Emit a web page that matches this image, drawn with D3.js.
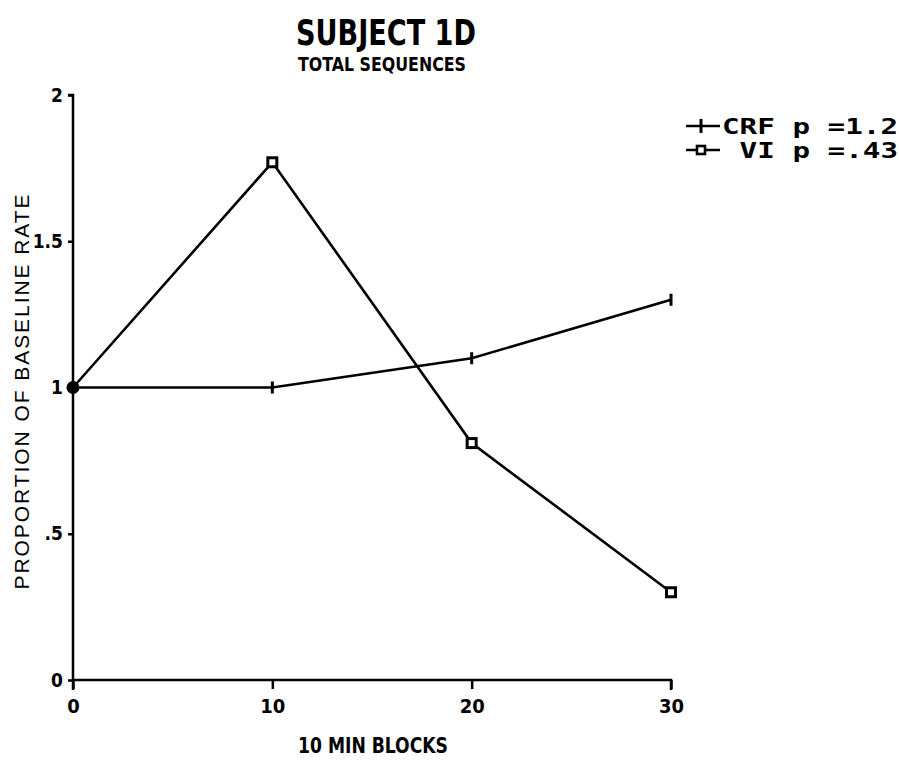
<!DOCTYPE html>
<html>
<head>
<meta charset="utf-8">
<script src="https://cdn.jsdelivr.net/npm/d3@7"></script>
<style>
  html, body { margin: 0; padding: 0; background: #fff; }
  svg { display: block; }
</style>
</head>
<body>
<script>
// Session blocks (10-minute blocks) and proportion of baseline response rate
const blocks = [0, 10, 20, 30];
const crfValues = [1.0, 1.0, 1.1, 1.3];
const viValues = [1.0, 1.77, 0.81, 0.30];
const xTicks = [0, 10, 20, 30];
const yTicks = [0, 0.5, 1, 1.5, 2];
const yTickLabels = ["0", ".5", "1", "1.5", "2"];
const legendLabels = ["CRF p =1.2", " VI p =.43"];

const W = 899, H = 762;
const svg = d3.select("body").append("svg").attr("width", W).attr("height", H);

const x = d3.scaleLinear().domain([0, 30]).range([73, 671]);
const y = d3.scaleLinear().domain([0, 2]).range([680, 95]);

const narrow = "'DejaVu Sans Condensed', 'Liberation Sans Narrow', 'DejaVu Sans', sans-serif";
const ink = "#000";

function condensedText(sel) {
  return sel.attr("font-family", narrow).attr("font-weight", "bold")
    .style("font-stretch", "condensed").attr("fill", ink)
    .attr("lengthAdjust", "spacingAndGlyphs");
}

// Titles
svg.append("text").attr("x", 386).attr("y", 45)
  .attr("text-anchor", "middle").attr("font-size", 36)
  .call(condensedText).attr("textLength", 180)
  .text("SUBJECT 1D");
svg.append("text").attr("x", 382).attr("y", 71)
  .attr("text-anchor", "middle").attr("font-size", 20)
  .call(condensedText).attr("textLength", 168)
  .text("TOTAL SEQUENCES");

// Axes
const xAxis = d3.axisBottom(x).tickValues(xTicks).tickSize(9).tickFormat(d3.format("d"));
const gx = svg.append("g").attr("transform", `translate(0,${y(0)})`).call(xAxis);
gx.select(".domain").attr("d", `M${x(0)},0H${x(30)}V10`);
gx.selectAll("line, path").attr("stroke", ink).attr("stroke-width", 2.5);
gx.selectAll("text").call(condensedText)
  .attr("font-size", 20).attr("dy", "1.05em");

const yAxis = d3.axisLeft(y).tickValues(yTicks).tickSize(5)
  .tickFormat((d, i) => yTickLabels[i]);
const gy = svg.append("g").attr("transform", `translate(${x(0)},0)`).call(yAxis);
gy.select(".domain").attr("d", `M-5,${y(2)}H0V${y(0) + 10}`);
gy.selectAll("line, path").attr("stroke", ink).attr("stroke-width", 2.5);
gy.selectAll("text").call(condensedText)
  .attr("font-size", 19).attr("x", -10);

// Axis titles
svg.append("text").attr("x", 373).attr("y", 753)
  .attr("text-anchor", "middle").attr("font-size", 21)
  .call(condensedText).attr("textLength", 150)
  .text("10 MIN BLOCKS");
svg.append("text")
  .attr("transform", `translate(29,${392}) rotate(-90)`)
  .attr("text-anchor", "middle").attr("font-family", "'Liberation Sans', Arial, sans-serif")
  .attr("font-size", 21).attr("fill", ink)
  .attr("textLength", 395).attr("lengthAdjust", "spacing")
  .text("PROPORTION OF BASELINE RATE");

const line = d3.line().x((d, i) => x(blocks[i])).y(d => y(d));

// CRF series
svg.append("path").datum(crfValues).attr("d", line)
  .attr("fill", "none").attr("stroke", ink).attr("stroke-width", 2.6);
svg.append("g").selectAll("path").data(crfValues.slice(1)).join("path")
  .attr("d", (d, i) => `M${x(blocks[i + 1])},${y(d) - 6}v12`)
  .attr("stroke", ink).attr("stroke-width", 3);

// VI series
svg.append("path").datum(viValues).attr("d", line)
  .attr("fill", "none").attr("stroke", ink).attr("stroke-width", 2.6);
svg.append("g").selectAll("rect").data(viValues.slice(1)).join("rect")
  .attr("x", (d, i) => x(blocks[i + 1]) - 4.5).attr("y", d => y(d) - 4.5)
  .attr("width", 9).attr("height", 9)
  .attr("fill", "#fff").attr("stroke", ink).attr("stroke-width", 3);

// Shared starting point
svg.append("circle").attr("cx", x(blocks[0])).attr("cy", y(viValues[0]))
  .attr("r", 6.5).attr("fill", ink);

// Legend
const mono = "'DejaVu Sans Mono', 'Liberation Mono', monospace";
const lg = svg.append("g");
legendLabels.forEach((t, i) => {
  const ly = 126 + i * 24;
  lg.append("path").attr("d", `M686,${ly}H720`).attr("stroke", ink).attr("stroke-width", 2.6);
  if (i === 0) {
    lg.append("path").attr("d", `M701,${ly - 7}v14`).attr("stroke", ink).attr("stroke-width", 3);
  } else {
    lg.append("rect").attr("x", 697).attr("y", ly - 4).attr("width", 8).attr("height", 8)
      .attr("fill", "#fff").attr("stroke", ink).attr("stroke-width", 2.6);
  }
  lg.append("text").attr("x", 722).attr("y", ly + 8)
    .attr("font-family", mono).attr("font-weight", "bold").attr("font-size", 21)
    .attr("textLength", 176).attr("lengthAdjust", "spacingAndGlyphs")
    .attr("xml:space", "preserve").style("white-space", "pre")
    .attr("fill", ink).text(t);
});
</script>
</body>
</html>
